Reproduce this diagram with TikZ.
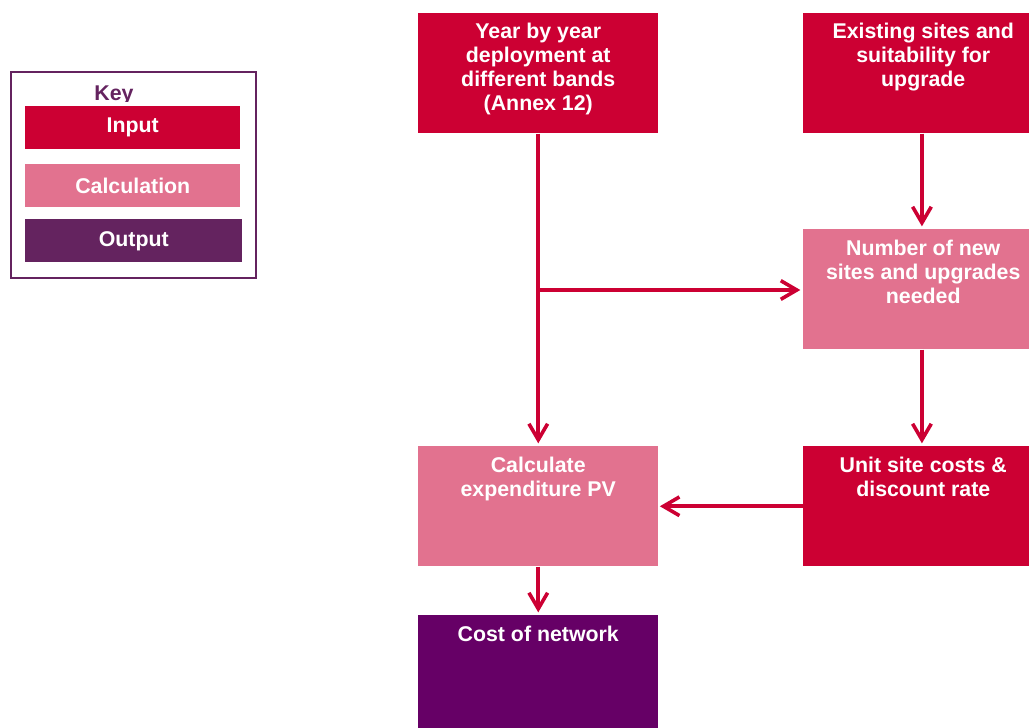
\documentclass[tikz,border=0pt]{standalone}
\usepackage{fontspec}
\setmainfont{Liberation Sans}
\usetikzlibrary{arrows.meta}
\definecolor{inred}{HTML}{CC0033}
\definecolor{calcpink}{HTML}{E2728F}
\definecolor{keypurple}{HTML}{64235F}
\definecolor{outpurple}{HTML}{660066}
\begin{document}
\begin{tikzpicture}[x=0.75pt,y=-0.75pt,
  box/.style={rectangle, inner sep=0pt, minimum width=180pt, minimum height=90pt, anchor=north west},
  inbox/.style={box, fill=inred},
  calcbox/.style={box, fill=calcpink},
  outbox/.style={box, fill=outpurple},
  boxtext/.style={anchor=north, text=white, font=\bfseries\fontsize{16}{18}\selectfont, align=center, inner sep=0pt},
  keyitem/.style={rectangle, inner sep=0pt, anchor=north west, minimum width=161.25pt, minimum height=32.25pt, text=white, font=\bfseries\fontsize{16}{18}\selectfont},
  flow/.style={draw=inred, line width=2.7pt, -{Straight Barb[length=12pt,width=14pt,line width=2.7pt]}}
]
\useasboundingbox (0,0) rectangle (1029,728);
\clip (0,0) rectangle (1029,728);

% key
\node[draw=keypurple, line width=1.5pt, rectangle, inner sep=0pt, anchor=north west, minimum width=183.75pt, minimum height=154.5pt] (keyframe) at (10,71) {};
\begin{scope}
  \clip (0,80) rectangle (300,101);
  \node[anchor=north, inner sep=0pt, text=keypurple, font=\bfseries\fontsize{16}{18}\selectfont] (keylabel) at (114,86) {Key};
\end{scope}
\node[keyitem, fill=inred] (kin) at (25,106) {Input};
\node[keyitem, fill=calcpink] (kcalc) at (25,164) {Calculation};
\node[keyitem, fill=keypurple, minimum width=162.75pt] (kout) at (25,219) {Output};

% boxes
\node[inbox] (year) at (418,13) {};
\node[boxtext] (yeartxt) at ([yshift=-7.5pt]year.north) {Year by year\\deployment at\\different bands\\(Annex 12)};
\node[inbox] (exist) at (803,13) {};
\node[boxtext] (existtxt) at ([yshift=-7.5pt]exist.north) {Existing sites and\\suitability for\\upgrade};
\node[calcbox] (num) at (803,229) {};
\node[boxtext] (numtxt) at ([yshift=-8pt]num.north) {Number of new\\sites and upgrades\\needed};
\node[calcbox] (calc) at (418,446) {};
\node[boxtext] (calctxt) at ([yshift=-8pt]calc.north) {Calculate\\expenditure PV};
\node[inbox] (unit) at (803,446) {};
\node[boxtext] (unittxt) at ([yshift=-8pt]unit.north) {Unit site costs \&\\discount rate};
\node[outbox] (cost) at (418,615) {};
\node[boxtext] (costtxt) at ([yshift=-8pt]cost.north) {Cost of network};

% connectors
\coordinate (branch) at (538,290);
\draw[flow] (year.south) -- ([yshift=2pt]calc.north);
\draw[flow] (branch) -- ([xshift=-2pt]branch -| num.west);
\draw[flow] ([xshift=-1pt]exist.south) -- ([xshift=-1pt,yshift=2pt]num.north);
\draw[flow] ([xshift=-1pt]num.south) -- ([xshift=-1pt,yshift=2pt]unit.north);
\draw[flow] (unit.west) -- ([xshift=1pt]calc.east);
\draw[flow] (calc.south) -- ([yshift=2pt]cost.north);
\end{tikzpicture}
\end{document}
